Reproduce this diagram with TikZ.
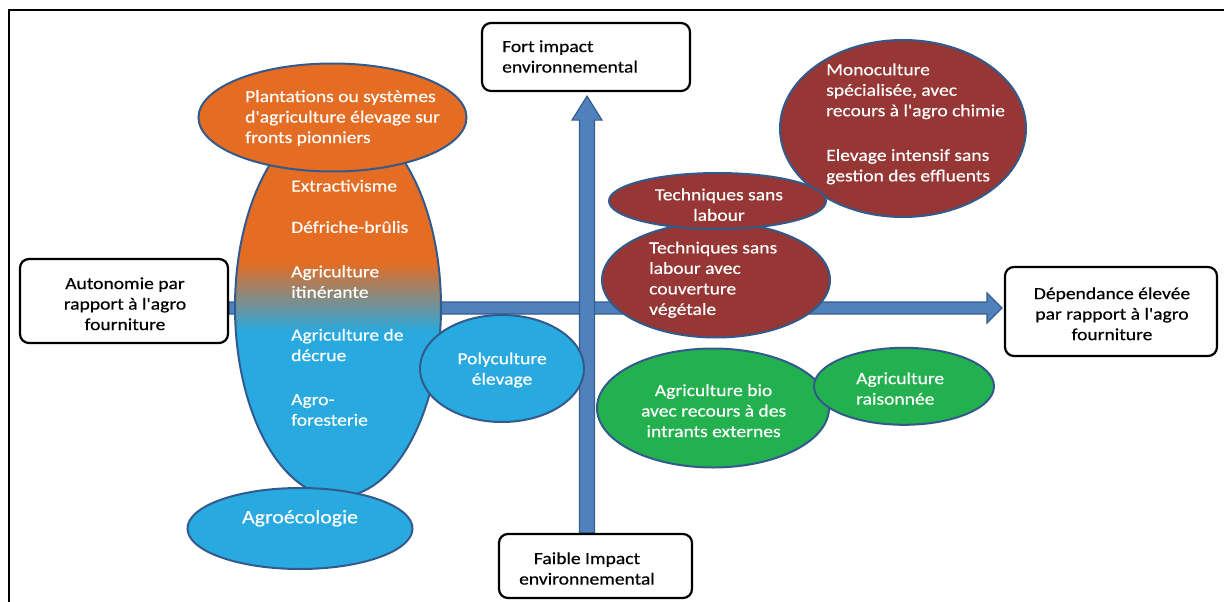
\documentclass[tikz,border=0pt]{standalone}
\usepackage{fontspec}
\setmainfont{Carlito}[FakeStretch=1.15, FakeBold=0.4, Ligatures=TeXOff]
\usetikzlibrary{shapes.geometric,calc,backgrounds}
\definecolor{orangeF}{RGB}{228,108,35}
\definecolor{blueF}{RGB}{40,170,225}
\definecolor{redF}{RGB}{150,55,53}
\definecolor{greenF}{RGB}{35,176,78}
\definecolor{edgeB}{RGB}{50,90,140}
\definecolor{arrowF}{RGB}{79,129,189}
\definecolor{arrowE}{RGB}{56,93,138}
\pgfdeclareverticalshading{eggshade}{100bp}{color(0bp)=(blueF); color(46.7bp)=(blueF); color(55.9bp)=(orangeF); color(100bp)=(orangeF)}
\begin{document}
\begin{tikzpicture}[x=1pt,y=-1pt,
  ell/.style={ellipse, draw=edgeB, line width=2pt, inner sep=0pt},
  box/.style={draw=black, line width=2.2pt, rounded corners=9pt, fill=white, inner sep=0pt},
  barrow/.style={fill=arrowF, draw=arrowE, line width=1.2pt, line join=miter},
  wt/.style={text=white, font=\fontsize{17}{20.5}\selectfont, inner sep=0pt},
  bt/.style={text=black, font=\fontsize{17}{20.5}\selectfont, inner sep=0pt}]
\useasboundingbox (0,0) rectangle (1224,602);
\draw[line width=2.5pt] (9,602) -- (9,10) -- (1224,10);

% boxes
\node[box, minimum width=208, minimum height=68] (fort) at (586,57) {};
\node[box, minimum width=208, minimum height=84] (auto) at (124,301) {};
\node[box, minimum width=212, minimum height=89] (dep) at (1111,311.5) {};
\node[box, minimum width=193, minimum height=64] (faible) at (595.5,566) {};

% arrows
\begin{pgfonlayer}{background}
\coordinate (hy) at (0,308);
\coordinate (hbeg) at (auto.east |- hy);
\coordinate (htip) at ($(dep.west |- hy)+(-2,0)$);
\draw[barrow] ($(hbeg)+(0,-6)$) -- ($(htip)+(-15,-6)$) -- ($(htip)+(-15,-15)$) -- (htip) -- ($(htip)+(-15,15)$) -- ($(htip)+(-15,6)$) -- ($(hbeg)+(0,6)$) -- cycle;
\coordinate (vx) at (587,0);
\coordinate (vbot) at (vx |- faible.north);
\coordinate (vtip) at ($(vx |- fort.south)+(0,4)$);
\draw[barrow] ($(vbot)+(-7.5,0)$) -- ($(vtip)+(-7.5,24)$) -- ($(vtip)+(-15,24)$) -- (vtip) -- ($(vtip)+(15,24)$) -- ($(vtip)+(7.5,24)$) -- ($(vbot)+(7.5,0)$) -- cycle;
\end{pgfonlayer}

% shapes
\node[ell, shade, shading=eggshade, minimum width=206, minimum height=380] (egg) at (338,307) {};
\node[ell, fill=orangeF, minimum width=268, minimum height=108] (plant) at (332.5,117.5) {};
\node[ell, fill=blueF, minimum width=225, minimum height=81] (agroeco) at (300,528.5) {};
\node[ell, fill=blueF, minimum width=164, minimum height=107] (poly) at (502,368.5) {};
\node[ell, fill=redF, minimum width=246, minimum height=177] (mono) at (903,128.5) {};
\node[ell, fill=redF, minimum width=228, minimum height=115] (tslc) at (716,280) {};
\node[ell, fill=redF, minimum width=217, minimum height=56] (tsl) at (717.5,201) {};
\node[ell, fill=greenF, minimum width=232, minimum height=119] (bio) at (713,408) {};
\node[ell, fill=greenF, minimum width=180, minimum height=77] (rais) at (904,386.3) {};

% texts in shapes
\node[wt, align=left, anchor=west] (tplant) at (245,118) {Plantations ou systèmes\\d'agriculture élevage sur\\fronts pionniers};
\node[wt, anchor=west] (textr) at (291,185.7) {Extractivisme};
\node[wt, anchor=west] (tdefr) at (291,227) {Défriche-brûlis};
\node[wt, align=left, anchor=west] (titin) at (291,281.7) {Agriculture\\itinérante};
\node[wt, align=left, anchor=west] (tdecr) at (291,345) {Agriculture de\\décrue};
\node[wt, align=left, anchor=west] (tfor) at (291,410) {Agro-\\foresterie};
\node[wt, font=\fontsize{19}{22}\selectfont] (tagro) at (300,518.3) {Agroécologie};
\node[wt, align=center] (tpoly) at (502,370) {Polyculture\\élevage};
\node[wt, align=left, anchor=west] (tmonoA) at (826,91.3) {Monoculture\\spécialisée, avec\\recours à l'agro chimie};
\node[wt, align=left, anchor=west] (tmonoB) at (826,166.7) {Elevage intensif sans\\gestion des effluents};
\node[wt, align=center] (ttsl) at (719,204.7) {Techniques sans\\labour};
\node[wt, align=left, anchor=west] (ttslc) at (649,279.7) {Techniques sans\\labour avec\\couverture\\végétale};
\node[wt, align=center] (tbio) at (713.6,410.7) {Agriculture bio\\avec recours à des\\intrants externes};
\node[wt, align=left, anchor=west] (trais) at (856,388.5) {Agriculture\\raisonnée};

% texts in boxes
\node[bt, align=left, anchor=west] (tfort) at (502,56.5) {Fort impact\\environnemental};
\node[bt, align=center] (tauto) at (125,303.8) {Autonomie par\\rapport à l'agro\\fourniture};
\node[bt, align=center] (tdep) at (1112,313.8) {Dépendance élevée\\par rapport à l'agro\\fourniture};
\node[bt, align=center] (tfaible) at (587,568.5) {Faible Impact\\environnemental};
\end{tikzpicture}
\end{document}
